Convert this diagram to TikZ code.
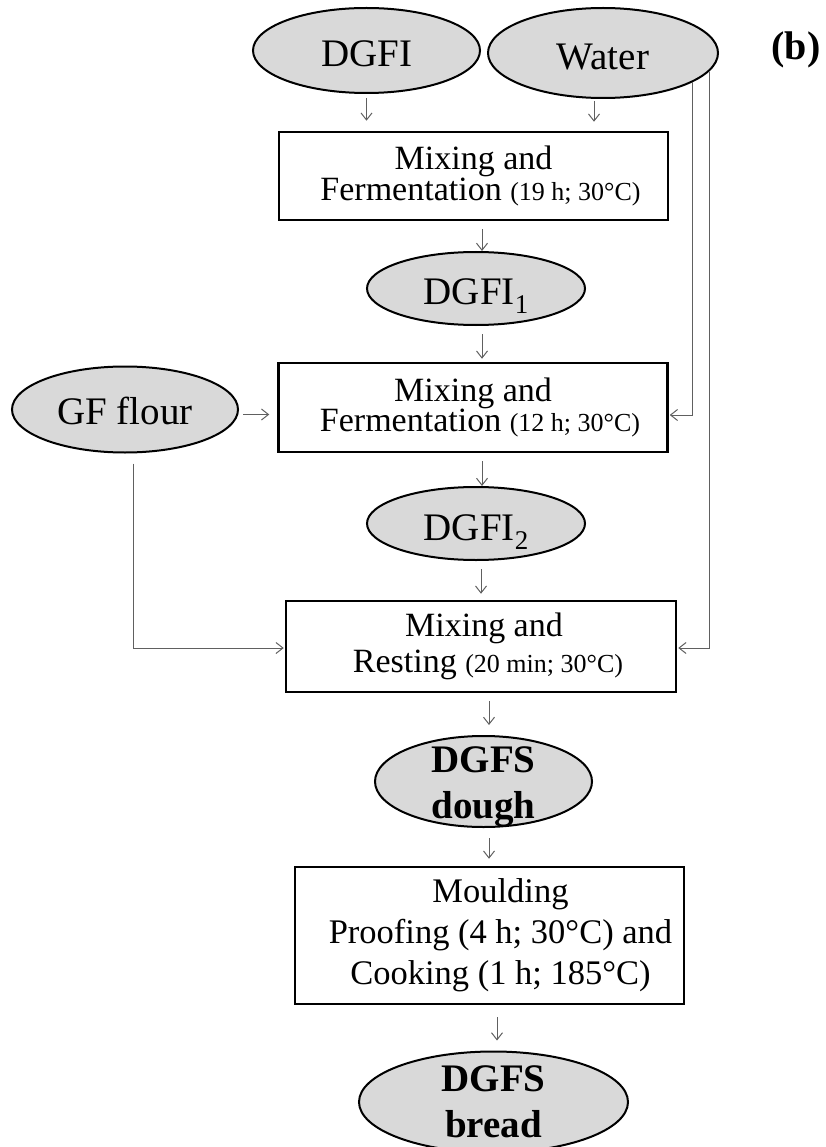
\documentclass[tikz,border=0pt]{standalone}
\usepackage{fontspec}
\setmainfont{Liberation Serif}
\usetikzlibrary{arrows.meta,shapes.geometric,calc}

\definecolor{fillgray}{HTML}{D9D9D9}
\definecolor{linegray}{HTML}{606060}
\newcommand{\cond}[1]{{\fontsize{26}{28}\selectfont #1}}
\newcommand{\lowsub}[1]{\raisebox{-9pt}{\fontsize{27}{27}\selectfont #1}}

\begin{document}
\begin{tikzpicture}[x=1pt,y=-1pt,
    pill/.style={ellipse, draw, line width=2pt, fill=fillgray, inner sep=0pt,
                 text height=33pt, text depth=0pt, font=\fontsize{39}{44}\selectfont},
    stepbox/.style={rectangle, draw, line width=2.5pt, inner sep=0pt, align=center,
                    minimum width=389pt, font=\fontsize{34}{29}\selectfont},
    boldtxt/.style={align=center, font=\fontsize{39}{46}\selectfont\bfseries},
    flow/.style={draw=linegray, line width=1pt, -{Straight Barb[length=7pt,width=11pt]},
                 shorten <=8pt, shorten >=6pt}]
                  \useasboundingbox (0,0) rectangle (825,1147);
                  % inputs
                  \node[pill, minimum width=227pt, minimum height=85pt] (dgfi) at (366.5,50.5) {DGFI};
                  \node[pill, minimum width=230pt, minimum height=90pt] (water) at (603,53) {Water};
                  \node[font=\fontsize{40}{44}\selectfont\bfseries] (panel) at (796,50) {(b)};
                  \node[pill, minimum width=226pt, minimum height=86pt, text height=30pt] (gf) at (125,409.5) {GF flour};
                  % process steps
                  \node[stepbox, minimum height=88pt] (mixA) at (473.5,176)
                      {Mixing and\\\hspace*{14pt}Fermentation \cond{(19 h; 30°C)}};
                  \node[pill, minimum width=218pt, minimum height=73pt] (dgfiA) at (476,288.5) {DGFI\lowsub{1}};
                  \node[stepbox, minimum height=89pt] (mixB) at (473,407.5)
                      {Mixing and\\\hspace*{14pt}Fermentation \cond{(12 h; 30°C)}};
                  \node[pill, minimum width=218pt, minimum height=73pt] (dgfiB) at (476,523.5) {DGFI\lowsub{2}};
                  \node[stepbox, minimum width=390pt, minimum height=91pt, font=\fontsize{34}{36}\selectfont] (mixC) at (481,646.5)
                      {\hspace*{6pt}Mixing and\\\hspace*{14pt}Resting \cond{(20 min; 30°C)}};
                  \node[pill, minimum width=217pt, minimum height=91pt,
                        label={[boldtxt, yshift=-5pt]center:DGFS\\dough}] (dough) at (483.5,781.5) {};
                  \node[stepbox, minimum height=137pt, font=\fontsize{34.5}{41}\selectfont] (mixD) at (489.5,935.5)
                      {\hspace*{22pt}Moulding\\\hspace*{22pt}Proofing (4 h; 30°C) and\\\hspace*{22pt}Cooking (1 h; 185°C)};
                  \node[pill, minimum width=269pt, minimum height=101pt,
                        label={[boldtxt]center:DGFS\\bread}] (bread) at (493.5,1102) {};
                  % main chain
                  \draw[flow, shorten <=4pt, shorten >=10pt] (dgfi.south) -- (dgfi.south |- mixA.north);
                  \draw[flow, shorten <=2pt, shorten >=9pt] ([xshift=-9pt]water.south) -- ([xshift=-9pt]water.south |- mixA.north);
                  \draw[flow, shorten >=0pt] ([xshift=6pt]dgfiA.north |- mixA.south) -- ([xshift=6pt]dgfiA.north);
                  \draw[flow, shorten >=3pt] ([xshift=6pt]dgfiA.south) -- ([xshift=6pt]dgfiA.south |- mixB.north);
                  \draw[flow, shorten >=0pt] ([xshift=6pt]dgfiB.north |- mixB.south) -- ([xshift=6pt]dgfiB.north);
                  \draw[flow] ([xshift=5pt]dgfiB.south) -- ([xshift=5pt]dgfiB.south |- mixC.north);
                  \draw[flow, shorten >=10pt] ([xshift=5.5pt]dough.north |- mixC.south) -- ([xshift=5.5pt]dough.north);
                  \draw[flow, shorten <=10pt, shorten >=7pt] ([xshift=5.5pt]dough.south) -- ([xshift=5.5pt]dough.south |- mixD.north);
                  \draw[flow, shorten <=12pt, shorten >=10pt] ([xshift=3.5pt]bread.north |- mixD.south) -- ([xshift=3.5pt]bread.north);
                  % side feeds
                  \draw[flow, shorten <=4pt, shorten >=8pt] ([yshift=-5pt]gf.east) -- ([yshift=-5pt]gf.east -| mixB.west);
                  \draw[flow, shorten <=10pt, shorten >=1pt] ([xshift=8pt]gf.south) |- ([yshift=-1.5pt]mixC.west);
                  \draw[flow, shorten <=0pt, shorten >=1pt] (water.-18) |- ([yshift=-7.5pt]mixB.east);
                  \draw[flow, shorten <=0pt, shorten >=1pt] (water.-10) |- ([yshift=-1.5pt]mixC.east);
              \end{tikzpicture}
\end{document}
